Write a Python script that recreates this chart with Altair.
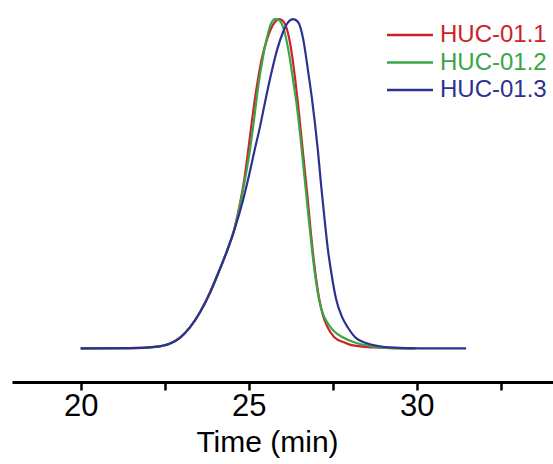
import altair as alt
import pandas as pd

series_names = ["HUC-01.1", "HUC-01.2", "HUC-01.3"]
series_colors = ["#cc2229", "#3aa547", "#2e3192"]

red_time = [20.0, 21.47, 22.21, 22.66, 22.96, 23.25, 23.55, 23.85, 24.09, 24.35, 24.59, 24.74,
            24.87, 24.97, 25.07, 25.16, 25.28, 25.40, 25.55, 25.66, 25.78, 25.90, 26.02, 26.17,
            26.29, 26.38, 26.47, 26.56, 26.65, 26.75, 26.86, 26.97, 27.09, 27.21, 27.36, 27.54,
            27.87, 28.10, 28.91, 29.89]
red_signal = [0.0, 0.0006, 0.0046, 0.015, 0.033, 0.064, 0.110, 0.170, 0.228, 0.295, 0.370, 0.440,
              0.515, 0.590, 0.670, 0.740, 0.820, 0.885, 0.940, 0.970, 0.991, 1.0, 0.994, 0.957,
              0.890, 0.820, 0.740, 0.650, 0.560, 0.460, 0.340, 0.240, 0.155, 0.100, 0.062, 0.035,
              0.017, 0.009, 0.002, 0.0]

green_time = [20.0, 21.47, 22.21, 22.66, 22.96, 23.25, 23.55, 23.85, 24.09, 24.35, 24.59, 24.77,
              24.92, 25.04, 25.14, 25.22, 25.31, 25.40, 25.49, 25.57, 25.66, 25.78, 25.90, 26.05,
              26.20, 26.32, 26.44, 26.53, 26.62, 26.71, 26.80, 26.90, 27.00, 27.10, 27.21, 27.33,
              27.54, 27.81, 28.16, 28.52, 28.91, 29.50, 29.98]
green_signal = [0.0, 0.0006, 0.0046, 0.015, 0.033, 0.064, 0.110, 0.170, 0.228, 0.295, 0.368, 0.450,
                0.530, 0.605, 0.680, 0.745, 0.815, 0.870, 0.920, 0.955, 0.985, 1.0, 0.997, 0.967,
                0.895, 0.815, 0.730, 0.650, 0.560, 0.470, 0.380, 0.285, 0.205, 0.145, 0.105, 0.080,
                0.052, 0.033, 0.018, 0.009, 0.003, 0.0, 0.0]

blue_time = [20.0, 21.47, 22.21, 22.66, 22.96, 23.25, 23.55, 23.85, 24.09, 24.35, 24.59, 24.83,
             25.01, 25.16, 25.34, 25.49, 25.66, 25.84, 26.02, 26.17, 26.32, 26.47, 26.62, 26.77,
             26.88, 26.97, 27.06, 27.15, 27.25, 27.36, 27.45, 27.60, 27.78, 27.96, 28.19, 28.67,
             29.21, 30.10, 31.47]
blue_signal = [0.0, 0.0006, 0.0046, 0.015, 0.033, 0.064, 0.110, 0.170, 0.228, 0.295, 0.365, 0.450,
               0.526, 0.595, 0.675, 0.750, 0.830, 0.905, 0.960, 0.990, 1.0, 0.991, 0.940, 0.840,
               0.760, 0.685, 0.600, 0.500, 0.400, 0.298, 0.235, 0.150, 0.095, 0.062, 0.032, 0.011,
               0.003, 0.0, 0.0]

x_ticks = [20, 22.5, 25, 27.5, 30, 32.5]

rows = []
for name, ts, vs in zip(series_names, [red_time, green_time, blue_time],
                        [red_signal, green_signal, blue_signal]):
    for t, v in zip(ts, vs):
        rows.append({"series": name, "time": t, "signal": v})
df = pd.DataFrame(rows)
leg_df = pd.DataFrame({"series": series_names})

FONT = "Liberation Sans"
color_scale = alt.Scale(domain=series_names, range=series_colors)

lines = alt.Chart(df).mark_line(strokeWidth=2.2, interpolate="monotone").encode(
    x=alt.X("time:Q",
            scale=alt.Scale(domain=[17.955, 34.056], nice=False, zero=False),
            axis=alt.Axis(values=x_ticks,
                          labelExpr="datum.value % 5 == 0 ? datum.label : ''",
                          title="Time (min)", grid=False,
                          domainColor="black", domainWidth=3,
                          tickColor="black", tickWidth=2.5, tickSize=8,
                          labelFont=FONT, labelFontSize=31, labelColor="black",
                          labelPadding=1, labelFlush=False, labelOverlap=False,
                          titleFont=FONT, titleFontSize=30, titleFontWeight="normal",
                          titleColor="black", titlePadding=6,
                          titleX=255, titleAlign="center")),
    y=alt.Y("signal:Q", scale=alt.Scale(domain=[-0.102, 1.058], nice=False, zero=False),
            axis=None),
    color=alt.Color("series:N", scale=color_scale, legend=None),
)

leg_y = alt.Y("series:N",
              scale=alt.Scale(type="point", domain=series_names, range=[35, 90], padding=0),
              axis=None)

leg_rules = alt.Chart(leg_df).mark_rule(strokeWidth=2.4).encode(
    x=alt.value(375), x2=alt.value(421), y=leg_y,
    color=alt.Color("series:N", scale=color_scale, legend=None),
)
leg_text = alt.Chart(leg_df).mark_text(align="left", baseline="middle", font=FONT,
                                       fontSize=24).encode(
    x=alt.value(428), y=leg_y, text="series:N",
    color=alt.Color("series:N", scale=color_scale, legend=None),
)

chart = alt.layer(lines, leg_rules, leg_text).resolve_scale(y="independent").properties(
    width=541, height=382,
    autosize=alt.AutoSizeParams(type="none"),
    padding={"left": 12, "top": 0, "right": 0, "bottom": 82},
    background="white",
).configure_view(stroke=None)

chart.save("out.html", embed_options={"renderer": "svg", "actions": False})
